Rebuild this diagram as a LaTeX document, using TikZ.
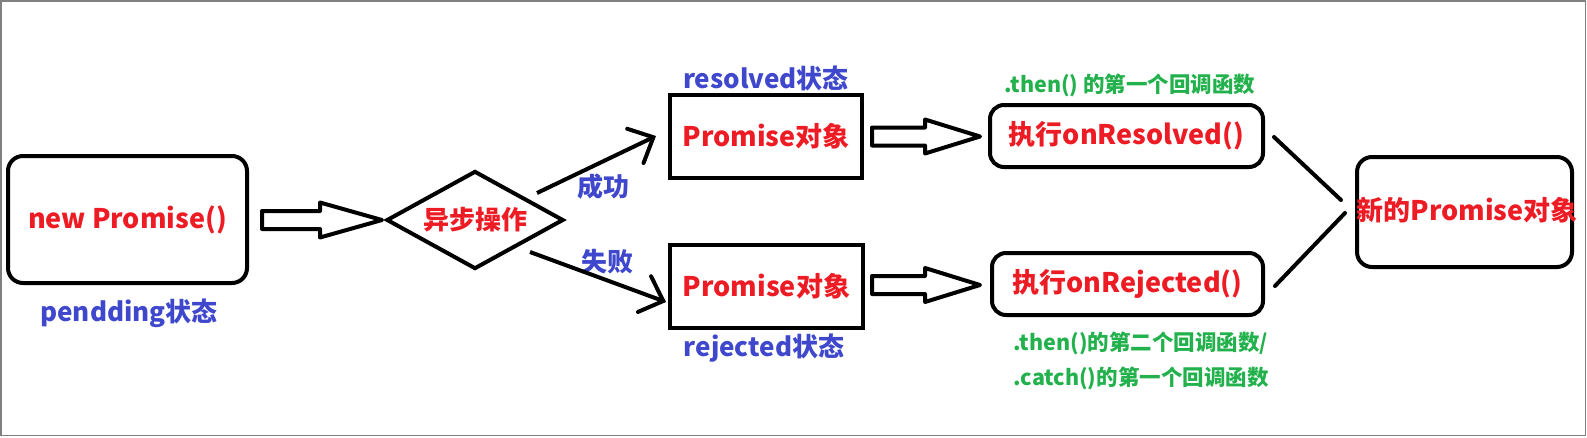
\documentclass[tikz,border=0pt]{standalone}
\usepackage{fontspec}
\usetikzlibrary{calc,arrows.meta}
\newfontfamily\yh{Noto Sans CJK SC}
\definecolor{pred}{RGB}{237,28,36}
\definecolor{pblue}{RGB}{63,72,204}
\definecolor{pgreen}{RGB}{34,177,76}
\newcommand\hollowarr[4]{%
  \draw[harrow] ($(#1)+(0,-9)$) -- ($(#1)+({#2-#3},-9)$) -- ($(#1)+({#2-#3},{-#4})$) -- ($(#1)+(#2,0)$) -- ($(#1)+({#2-#3},#4)$) -- ($(#1)+({#2-#3},9)$) -- ($(#1)+(0,9)$) -- cycle;}
\tikzset{
  every node/.style={font=\yh\bfseries},
  shapebox/.style={draw=black, line width=4pt, inner sep=0pt, font=\yh\bfseries\fontsize{27}{30}\selectfont, text=pred},
  roundbox/.style={shapebox, rounded corners=15pt},
  plainbox/.style={shapebox},
  harrow/.style={draw=black, fill=white, line width=4pt, line join=round},
  barbarrow/.style={line width=4pt, -{Straight Barb[length=20pt,width=38pt,line cap=round]}},
  plainline/.style={line width=4pt, line cap=round},
  bluelbl/.style={text=pblue, font=\yh\bfseries\fontsize{26}{29}\selectfont, inner sep=0pt},
  greenlbl/.style={text=pgreen, font=\yh\bfseries\fontsize{21.5}{24}\selectfont, inner sep=0pt},
}
\begin{document}
\begin{tikzpicture}[x=1pt,y=-1pt]
\useasboundingbox (0,0) rectangle (1587,437);
\draw[gray, line width=1.5pt] (0.75,0.75) rectangle (1585.5,435.5);

% shapes
\node[roundbox, minimum width=239pt, minimum height=127pt] (np) at (127.5,219.5) {new Promise()};
\node[inner sep=0pt, minimum width=175pt, minimum height=96pt, font=\yh\bfseries\fontsize{26}{30}\selectfont, text=pred] (op) at (475,220) {异步操作};
\draw[line width=4pt, line join=miter] (op.west) -- (op.north) -- (op.east) -- (op.south) -- cycle;
\node[plainbox, minimum width=192pt, minimum height=83pt] (rs) at (766,136.5) {Promise对象};
\node[plainbox, minimum width=193pt, minimum height=83pt] (rj) at (766.5,286.5) {Promise对象};
\node[roundbox, rounded corners=14pt, minimum width=273pt, minimum height=62pt] (or) at (1126.5,136) {执行onResolved()};
\node[roundbox, rounded corners=14pt, minimum width=271pt, minimum height=62pt] (oj) at (1127.5,284) {执行onRejected()};
\node[roundbox, minimum width=215pt, minimum height=110pt] (nw) at (1464.5,212) {};
\node[text=pred, font=\yh\bfseries\fontsize{27}{30}\selectfont, inner sep=0pt] (nwt) at (1467,210) {新的Promise对象};

% labels
\node[bluelbl] (lp) at (129,313) {pendding状态};
\node[bluelbl] (lrs) at (766,78) {resolved状态};
\node[bluelbl] (lrj) at (764,348) {rejected状态};
\node[bluelbl] (lok) at (603,187) {成功};
\node[bluelbl] (lno) at (607,262) {失败};
\node[greenlbl] (g1) at (1130,85) {.then() 的第一个回调函数};
\node[greenlbl] (g2) at (1141,343) {.then()的第二个回调函数/};
\node[greenlbl] (g3) at (1141,378) {.catch()的第一个回调函数};

% hollow arrows
\coordinate (a1) at ($(np.east)+(13,0.5)$);
\hollowarr{a1}{120}{62}{17.5}
\coordinate (a2) at ($(rs.east)+(8,0)$);
\hollowarr{a2}{108}{55}{17}
\coordinate (a3) at ($(rj.east)+(7,-1.5)$);
\hollowarr{a3}{108}{55}{17}

% branch arrows
\coordinate (s1) at (537,193);
\coordinate (s2) at (530,252);
\draw[barbarrow] (s1) -- ([xshift=-12pt,yshift=0.5pt]rs.west);
\draw[barbarrow] (s2) -- ([xshift=-2pt,yshift=-15.5pt]rj.west);

% joining lines
\draw[plainline] ([xshift=9pt,yshift=-1pt]or.east) -- ([xshift=-14pt,yshift=12pt]nw.west);
\draw[plainline] ([xshift=10pt,yshift=-2pt]oj.east) -- ([xshift=-10pt,yshift=-1pt]nw.west);
\end{tikzpicture}
\end{document}
